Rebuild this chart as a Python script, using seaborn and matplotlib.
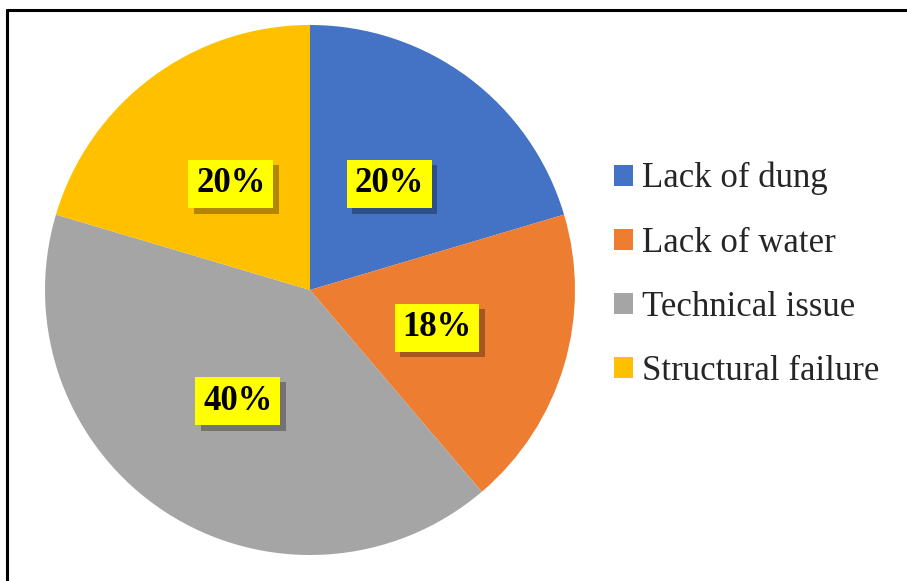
import matplotlib
matplotlib.use("Agg")
import matplotlib.pyplot as plt
import matplotlib.patheffects as pe
from matplotlib.lines import Line2D
from matplotlib.patches import Patch
import seaborn as sns

categories = ["Lack of dung", "Lack of water", "Technical issue", "Structural failure"]
values = [20, 18, 40, 20]
colors = ["#4472C4", "#ED7D31", "#A5A5A5", "#FFC000"]

sns.set_theme(style="white")
plt.rcParams['font.family'] = ['Liberation Serif', 'DejaVu Serif']

W, H = 907, 581
fig = plt.figure(figsize=(W / 100, H / 100), dpi=100)
fig.patch.set_facecolor("white")

cx, cy, r = 310, 290, 265
ax = fig.add_axes([(cx - r) / W, (H - cy - r) / H, 2 * r / W, 2 * r / H])
wedges, texts = ax.pie(values, colors=colors, startangle=90, counterclock=False,
                       labels=[f"{v}%" for v in values], labeldistance=0.5,
                       wedgeprops=dict(edgecolor="none", linewidth=0),
                       textprops=dict(fontsize=25, fontweight="bold", color="black",
                                      ha="center", va="center"))
for t in texts:
    t.set_bbox(dict(boxstyle="square,pad=0.22", facecolor="#FFFF00", edgecolor="none"))
    t.get_bbox_patch().set_path_effects([
        pe.SimplePatchShadow(offset=(4, -4), shadow_rgbFace="black", alpha=0.3),
        pe.Normal()])
ax.set_xlim(-1, 1)
ax.set_ylim(-1, 1)
ax.set_aspect("equal")
ax.axis("off")

handles = [Patch(facecolor=c, edgecolor="none") for c in colors]
fig.legend(handles, categories, loc="center left",
           bbox_to_anchor=(614 / W, 1 - 275 / H), frameon=False,
           fontsize=25, handlelength=0.55, handleheight=0.55,
           handletextpad=0.25, labelspacing=0.9, borderpad=0, borderaxespad=0)

# frame lines (top and left)
fig.add_artist(Line2D([7 / W, 1], [1 - 10 / H, 1 - 10 / H], color="black", linewidth=2.2,
                      transform=fig.transFigure))
fig.add_artist(Line2D([7 / W, 7 / W], [0, 1 - 10 / H], color="black", linewidth=2.2,
                      transform=fig.transFigure))

fig.savefig("out.png", dpi=100)
